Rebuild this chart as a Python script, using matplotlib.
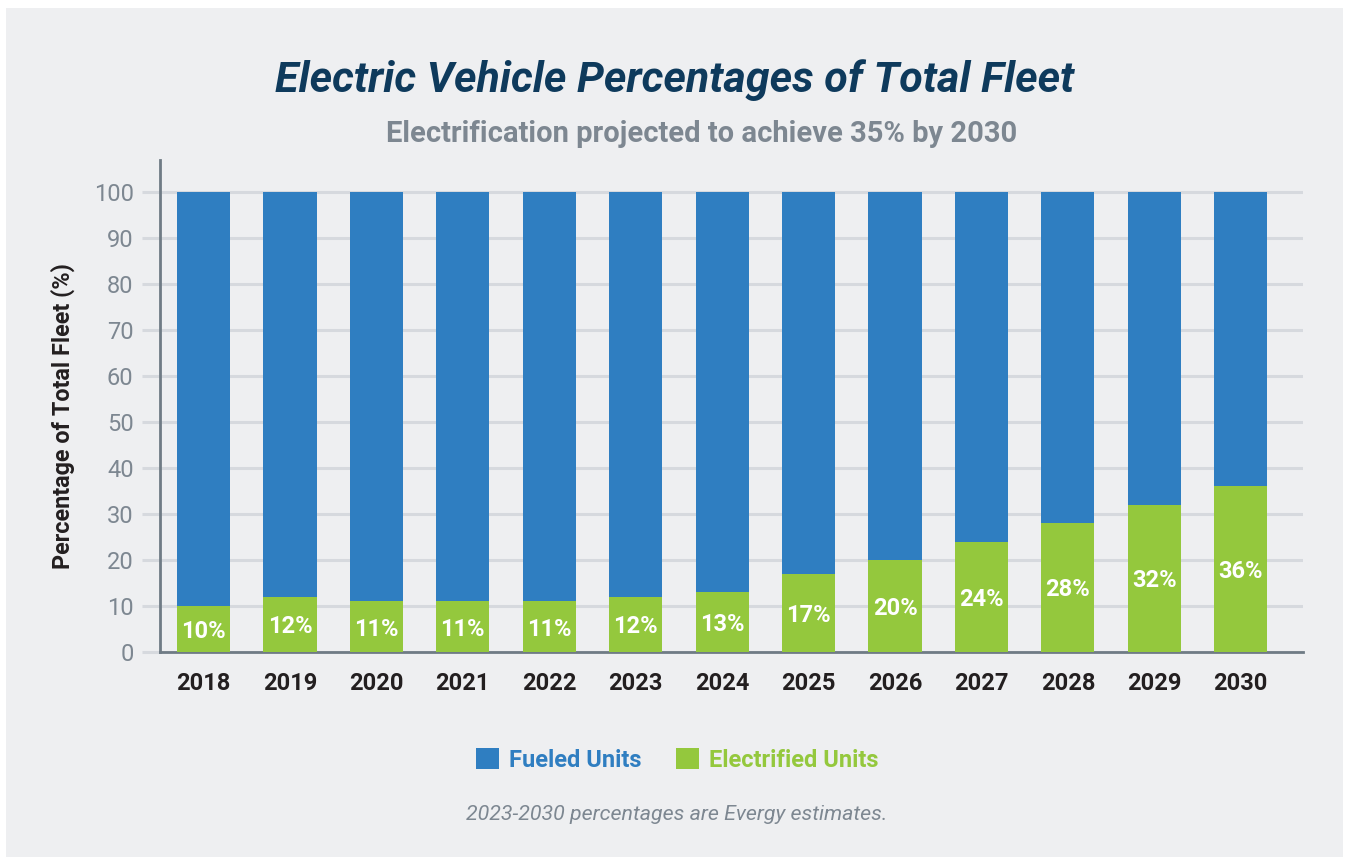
import matplotlib
matplotlib.use("Agg")
from matplotlib import pyplot as plt
from matplotlib.patches import Rectangle, Patch
import numpy as np

years = ['2018', '2019', '2020', '2021', '2022', '2023', '2024',
         '2025', '2026', '2027', '2028', '2029', '2030']
electrified = [10, 12, 11, 11, 11, 12, 13, 17, 20, 24, 28, 32, 36]
fueled = [100 - e for e in electrified]
yticks = [0, 10, 20, 30, 40, 50, 60, 70, 80, 90, 100]

blue = '#2f7ec1'
green = '#94c83d'
bg = '#eeeff1'
grid_c = '#d6d9de'

plt.rcParams['font.family'] = ['Roboto', 'DejaVu Sans']

fig = plt.figure(figsize=(13.49, 8.61), dpi=100)
fig.patch.set_facecolor('white')
fig.patches.append(Rectangle((6 / 1349, 1 - 857 / 861), 1337 / 1349, 849 / 861,
                             transform=fig.transFigure, facecolor=bg,
                             edgecolor='none', zorder=-10))

ax = fig.add_axes([160 / 1349, 1 - 652 / 861, 1143 / 1349, 492 / 861])
ax.set_facecolor(bg)
ax.patch.set_alpha(0)

x = np.arange(len(years))
ax.bar(x, electrified, width=0.615, color=green, zorder=3)
ax.bar(x, fueled, width=0.615, bottom=electrified, color=blue, zorder=3)

for xi, e in zip(x, electrified):
    ax.text(xi, e / 2 - 0.5, f'{e}%', ha='center', va='center', color='white',
            fontsize=17, fontweight='bold', zorder=4)

ax.set_xlim(-0.503, 12.72)
ax.set_ylim(0, 107)
ax.set_yticks(yticks)
ax.set_xticks(x)
ax.set_xticklabels(years, fontsize=17, fontweight='bold', color='#231f20')
ax.tick_params(axis='x', length=0, pad=14.5)
ax.tick_params(axis='y', length=13, width=2.2, color=grid_c, labelsize=17,
               labelcolor='#7d8791', pad=6)
ax.yaxis.grid(True, color=grid_c, linewidth=2.2, zorder=0)
ax.set_axisbelow(True)

for s in ['top', 'right']:
    ax.spines[s].set_visible(False)
ax.spines['left'].set_color('#6f7b85')
ax.spines['left'].set_linewidth(2)
ax.spines['bottom'].set_color('#6f7b85')
ax.spines['bottom'].set_linewidth(2)

ax.set_ylabel('Percentage of Total Fleet (%)', fontsize=16.8, fontweight='bold',
              color='#231f20')
ax.yaxis.set_label_coords(-0.074, 0.48)

fig.text(0.5, 1 - 80 / 861, 'Electric Vehicle Percentages of Total Fleet',
         ha='center', va='center', fontsize=31, fontweight='bold',
         fontstyle='italic', color='#0e3a5c')
fig.text(702 / 1349, 1 - 134 / 861, 'Electrification projected to achieve 35% by 2030',
         ha='center', va='center', fontsize=21, fontweight='bold',
         color='#7d8791')

handles = [Patch(facecolor=blue, label='Fueled Units'),
           Patch(facecolor=green, label='Electrified Units')]
leg = fig.legend(handles=handles, loc='center',
                 bbox_to_anchor=(677 / 1349, 1 - 760 / 861),
                 ncol=2, frameon=False, handlelength=1.0, handleheight=1.0,
                 handletextpad=0.4, columnspacing=1.45,
                 prop={'size': 17, 'weight': 'bold'})
for t, c in zip(leg.get_texts(), [blue, green]):
    t.set_color(c)

fig.text(677 / 1349, 1 - 815 / 861, '2023-2030 percentages are Evergy estimates.',
         ha='center', va='center', fontsize=15.4, fontstyle='italic',
         color='#7d8791')

fig.savefig('out.png', dpi=100, facecolor='white')
